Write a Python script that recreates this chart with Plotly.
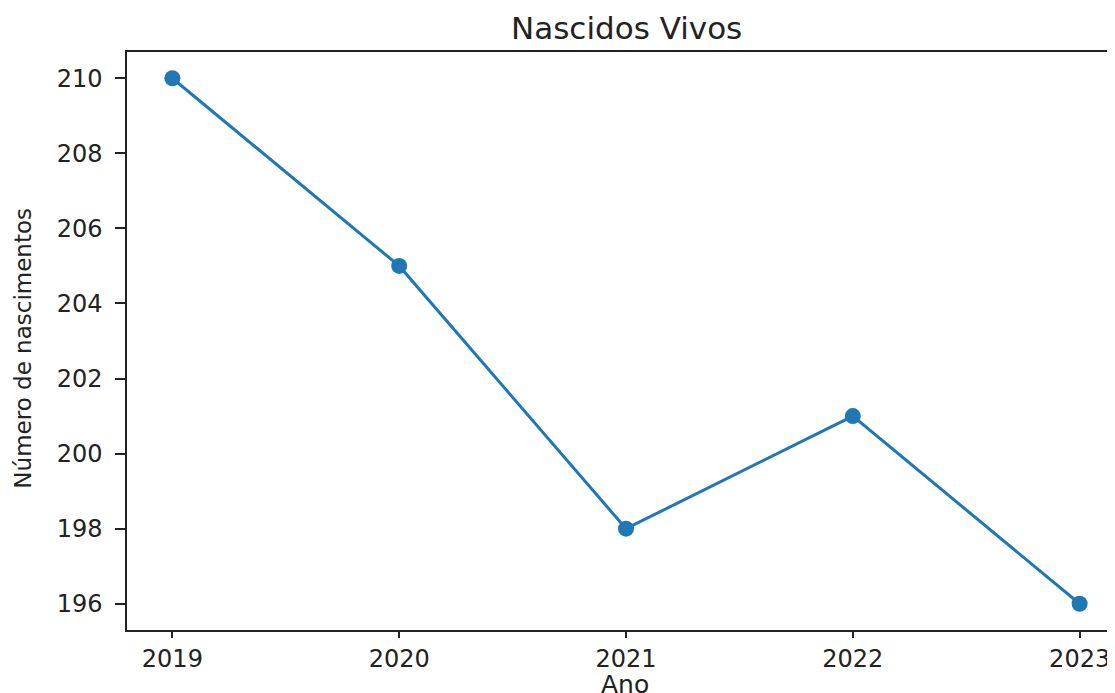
import plotly.graph_objects as go

years = [2019, 2020, 2021, 2022, 2023]
births = [210, 205, 198, 201, 196]
y_ticks = [196, 198, 200, 202, 204, 206, 208, 210]
x_ticks = [2019, 2020, 2021, 2022, 2023]

title_text = "Nascidos Vivos"
x_label = "Ano"
y_label = "Número de nascimentos"

# page body has an 8px margin; figure extends past the right window edge
W, H = 1117, 685
L, R, T, B = 119, 0, 44, 63

fig = go.Figure()
fig.add_trace(go.Scatter(
    x=years, y=births, mode="lines+markers",
    line=dict(color="#1f77b4", width=3),
    marker=dict(color="#1f77b4", size=16),
    showlegend=False, cliponaxis=False,
))

font = "DejaVu Sans"
txt = "#222222"
fig.update_layout(
    width=W, height=H,
    margin=dict(l=L, r=R, t=T, b=B, pad=0),
    paper_bgcolor="white", plot_bgcolor="white",
    font=dict(family=font, color=txt, size=22),
    xaxis=dict(
        range=[2018.8, 2023.2], tickmode="array", tickvals=x_ticks,
        ticktext=[str(v) for v in x_ticks],
        showgrid=False, zeroline=False,
        showline=True, linecolor=txt, linewidth=1.5, mirror=True,
        ticks="outside", ticklen=6, tickwidth=1.5, tickcolor=txt,
        tickfont=dict(size=24, family=font),
    ),
    yaxis=dict(
        range=[195.3, 210.7], tickmode="array", tickvals=y_ticks,
        showgrid=False, zeroline=False,
        showline=True, linecolor=txt, linewidth=1.5,
        ticks="outside", ticklen=10, tickwidth=1.5, tickcolor=txt,
        tickfont=dict(size=24, family=font), ticklabelstandoff=8,
    ),
)

fig.add_annotation(text=title_text, xref="paper", yref="paper",
                   x=0.5, y=1.0415, xanchor="center", yanchor="middle",
                   showarrow=False, font=dict(size=31, family=font, color=txt))
fig.add_annotation(text=x_label, xref="paper", yref="paper",
                   x=0.499, y=-0.094, xanchor="center", yanchor="middle",
                   showarrow=False, font=dict(size=25, family=font, color=txt))
fig.add_annotation(text=y_label, xref="paper", yref="paper",
                   x=-0.1045, y=0.488, xanchor="center", yanchor="middle",
                   textangle=-90, showarrow=False,
                   font=dict(size=23, family=font, color=txt))

fig.write_html("out.html")
